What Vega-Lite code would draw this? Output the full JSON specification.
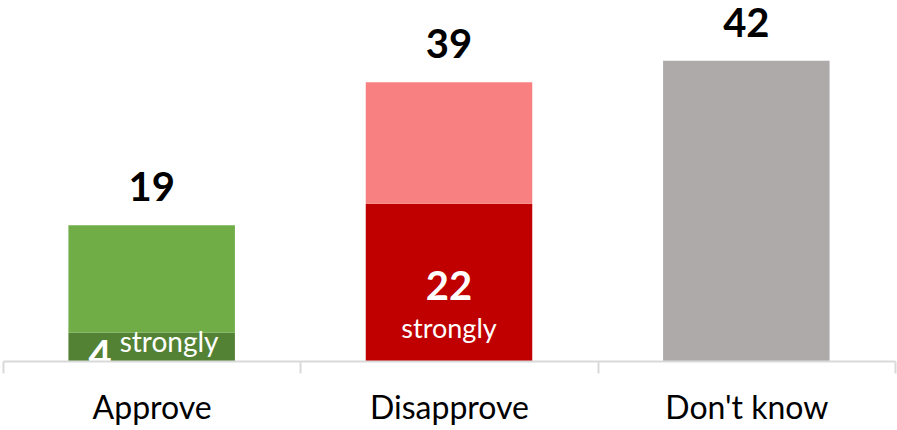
{
  "$schema": "https://vega.github.io/schema/vega-lite/v6.json",
  "width": 892,
  "height": 361,
  "autosize": {"type": "none"},
  "padding": {"left": 3, "top": 0, "right": 2, "bottom": 69},
  "background": "white",
  "config": {"view": {"stroke": null}, "font": "Lato"},
  "datasets": {
    "bars": [
      {"answer": "Approve", "part": "Strongly approve", "value": 4},
      {"answer": "Approve", "part": "Somewhat approve", "value": 15},
      {"answer": "Disapprove", "part": "Strongly disapprove", "value": 22},
      {"answer": "Disapprove", "part": "Somewhat disapprove", "value": 17},
      {"answer": "Don't know", "part": "Don't know", "value": 42}
    ],
    "totals": [
      {"answer": "Approve", "total": 19},
      {"answer": "Disapprove", "total": 39},
      {"answer": "Don't know", "total": 42}
    ]
  },
  "encoding": {
    "x": {
      "field": "answer",
      "type": "nominal",
      "sort": ["Approve", "Disapprove", "Don't know"],
      "scale": {"paddingInner": 0, "paddingOuter": 0},
      "axis": {
        "title": null,
        "labelAngle": 0,
        "labelFontSize": 32,
        "labelColor": "#000000",
        "labelBaseline": "alphabetic",
        "labelPadding": 45,
        "tickBand": "extent",
        "tickSize": 12,
        "tickWidth": 2,
        "tickColor": "#D9D9D9",
        "domainColor": "#D9D9D9",
        "domainWidth": 2,
        "zindex": 1
      }
    }
  },
  "layer": [
    {
      "data": {"name": "bars"},
      "mark": {"type": "bar", "width": {"band": 0.56}},
      "encoding": {
        "y": {"field": "value", "type": "quantitative", "stack": "zero", "scale": {"domain": [0, 50.5], "nice": false}, "axis": null},
        "color": {
          "field": "part",
          "type": "nominal",
          "scale": {
            "domain": ["Strongly approve", "Somewhat approve", "Strongly disapprove", "Somewhat disapprove", "Don't know"],
            "range": ["#548235", "#70AD47", "#C00000", "#F88080", "#AEAAAA"]
          },
          "legend": null
        },
        "order": {"field": "part", "sort": "descending"}
      }
    },
    {
      "data": {"name": "totals"},
      "mark": {"type": "text", "fontSize": 40, "fontWeight": "bold", "color": "#000000", "baseline": "alphabetic", "dy": -24},
      "encoding": {
        "y": {"field": "total", "type": "quantitative"},
        "text": {"field": "total", "type": "quantitative"}
      }
    },
    {
      "data": {"name": "bars"},
      "transform": [{"filter": "datum.part === 'Strongly disapprove'"}],
      "mark": {"type": "text", "fontSize": 40, "fontWeight": "bold", "color": "#FFFFFF", "baseline": "alphabetic", "dy": -61},
      "encoding": {
        "y": {"datum": 0, "type": "quantitative"},
        "text": {"field": "value", "type": "quantitative"}
      }
    },
    {
      "data": {"name": "bars"},
      "transform": [{"filter": "datum.part === 'Strongly disapprove'"}],
      "mark": {"type": "text", "text": "strongly", "fontSize": 27, "color": "#FFFFFF", "baseline": "alphabetic", "dy": -23},
      "encoding": {
        "y": {"datum": 0, "type": "quantitative"}
      }
    },
    {
      "data": {"name": "bars"},
      "transform": [{"filter": "datum.part === 'Strongly approve'"}],
      "mark": {"type": "text", "fontSize": 40, "fontWeight": "bold", "color": "#FFFFFF", "baseline": "alphabetic", "align": "right", "dx": -40, "dy": 8},
      "encoding": {
        "y": {"datum": 0, "type": "quantitative"},
        "text": {"field": "value", "type": "quantitative"}
      }
    },
    {
      "data": {"name": "bars"},
      "transform": [{"filter": "datum.part === 'Strongly approve'"}],
      "mark": {"type": "text", "text": "strongly", "fontSize": 28, "color": "#FFFFFF", "baseline": "alphabetic", "align": "left", "dx": -32, "dy": -9},
      "encoding": {
        "y": {"datum": 0, "type": "quantitative"}
      }
    }
  ]
}
